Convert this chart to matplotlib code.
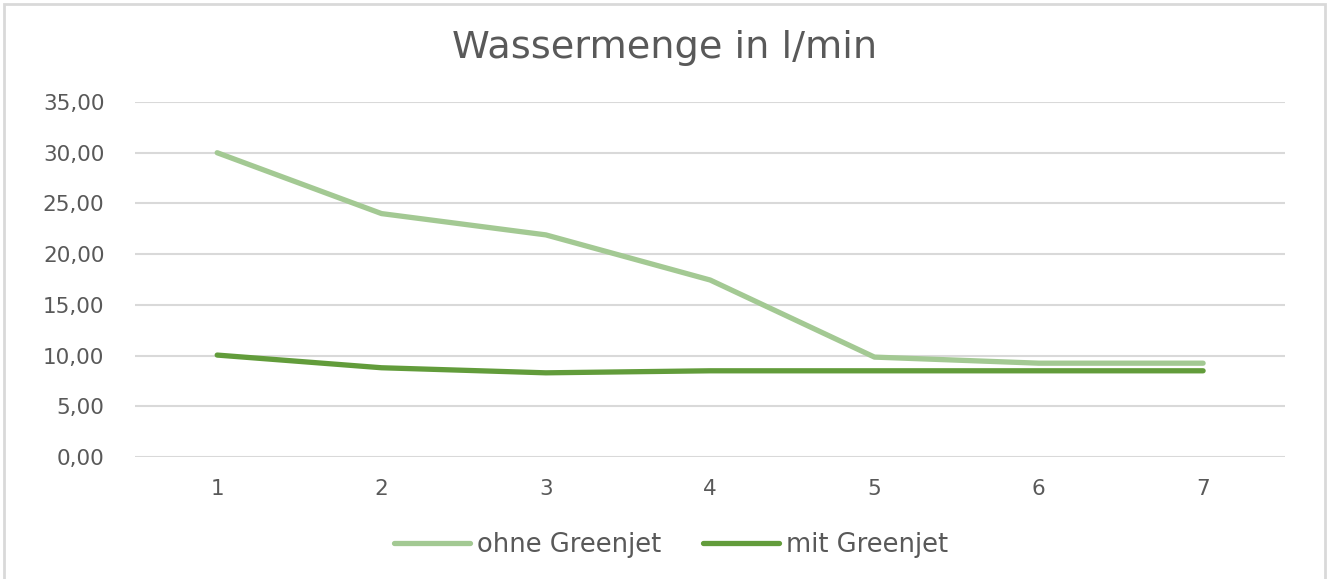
import matplotlib.pyplot as plt
from matplotlib.patches import Rectangle

# Messreihen
messung = [1, 2, 3, 4, 5, 6, 7]
ohne_greenjet = [30.0, 24.0, 21.9, 17.45, 9.85, 9.25, 9.25]
mit_greenjet = [10.05, 8.8, 8.3, 8.5, 8.5, 8.5, 8.5]
y_ticks = [0, 5, 10, 15, 20, 25, 30, 35]

grau = '#595959'
plt.rcParams['font.family'] = ['DejaVu Sans']

fig = plt.figure(figsize=(13.29, 5.79), dpi=100)
ax = fig.add_axes([0.1016, 0.2107, 0.8655, 0.6131])

# Rahmen um das Diagramm
fig.patches.append(Rectangle((4 / 1329, -0.05), 1321 / 1329, 1.05 - 4 / 579,
                             transform=fig.transFigure, fill=False,
                             edgecolor='#d9d9d9', linewidth=2))

ax.plot(messung, ohne_greenjet, color='#a3c993', linewidth=3.8,
        solid_capstyle='round', label='ohne Greenjet')
ax.plot(messung, mit_greenjet, color='#629c3b', linewidth=3.8,
        solid_capstyle='round', label='mit Greenjet')

ax.set_xlim(0.5, 7.5)
ax.set_ylim(0, 35)
ax.set_yticks(y_ticks)
ax.set_yticklabels([f'{v:.2f}'.replace('.', ',') for v in y_ticks])
ax.set_xticks(messung)
ax.grid(axis='y', color='#d9d9d9', linewidth=1.5)
ax.set_axisbelow(True)
for s in ax.spines.values():
    s.set_visible(False)
ax.tick_params(length=0, labelsize=15.5, labelcolor=grau)
ax.tick_params(axis='y', pad=22)
ax.tick_params(axis='x', pad=16)

fig.text(0.5, 0.917, 'Wassermenge in l/min', ha='center', va='center',
         fontsize=27.5, color=grau)

fig.legend(loc='center', bbox_to_anchor=(0.505, 0.059), ncol=2, frameon=False,
           fontsize=18.5, labelcolor=grau, handlelength=2.95, handletextpad=0.3,
           columnspacing=1.6)

fig.savefig('out.png', dpi=100)
